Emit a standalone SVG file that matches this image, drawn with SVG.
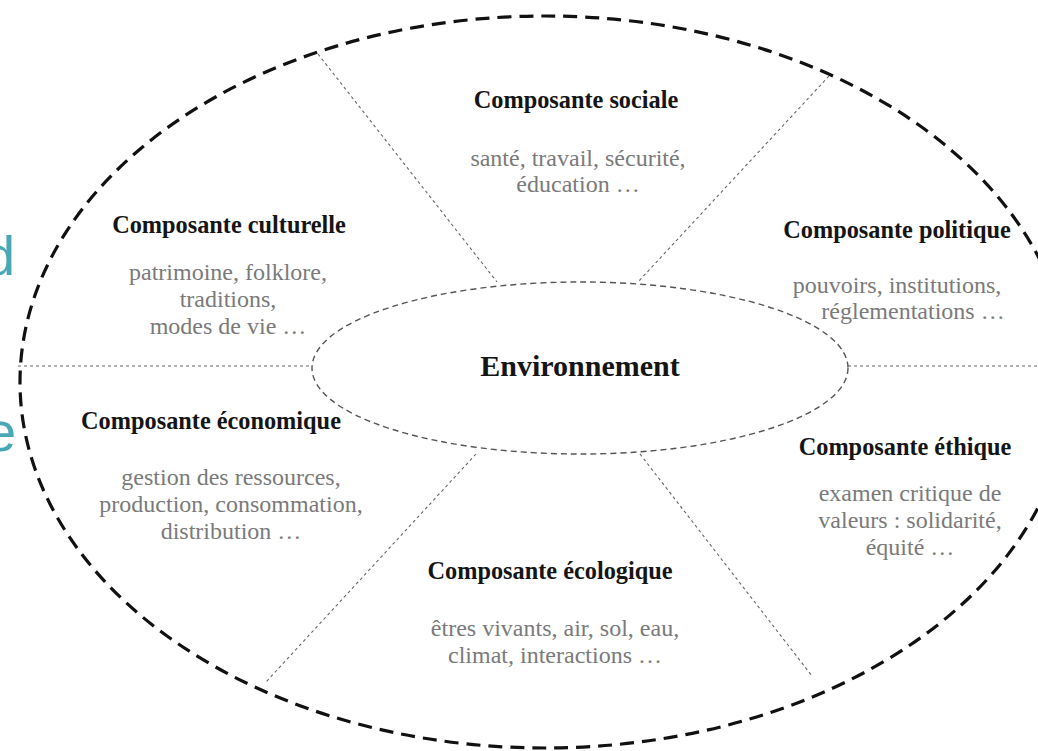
<svg xmlns="http://www.w3.org/2000/svg" width="1038" height="751" viewBox="0 0 1038 751">
<style>
.title{font-family:"Liberation Serif","Times New Roman",serif;font-weight:bold;font-size:24.3px;fill:#151515;text-anchor:middle}
.body{font-family:"Liberation Serif","Times New Roman",serif;font-size:24px;fill:#7a7a7a;text-anchor:middle}
.center{font-family:"Liberation Serif","Times New Roman",serif;font-weight:bold;font-size:30px;fill:#151515;text-anchor:middle}
.outer{fill:none;stroke:#111;stroke-width:3.2;stroke-dasharray:14 8}
.inner{fill:none;stroke:#555;stroke-width:1.4;stroke-dasharray:6 4}
.div{fill:none;stroke:#666;stroke-width:1.1;stroke-dasharray:3 3}
.teal{font-family:"Liberation Sans",Arial,sans-serif;font-size:56px;fill:#4aa7b6}
</style>
<rect width="1038" height="751" fill="#ffffff"/>
<text class="teal" x="-16" y="275">d</text>
<text class="teal" x="-15" y="451">e</text>
<g id="outer-ellipse">
<ellipse class="outer" cx="545" cy="382" rx="525" ry="366"/>
</g>
<g id="connectors">
<line class="div" x1="318" y1="54" x2="497" y2="282"/>
<line class="div" x1="829" y1="76" x2="638" y2="282"/>
<line class="div" x1="18" y1="366" x2="312" y2="366"/>
<line class="div" x1="848" y1="366" x2="1038" y2="366"/>
<line class="div" x1="476" y1="454" x2="266" y2="682"/>
<line class="div" x1="640" y1="454" x2="812" y2="676"/>
</g>
<g id="environnement">
<ellipse class="inner" cx="580" cy="368" rx="268" ry="86"/>
<text class="center" x="580" y="376">Environnement</text>
</g>
<g id="sociale">
<text class="title" x="576" y="108">Composante sociale</text>
<text class="body" x="578" y="166">santé, travail, sécurité,</text>
<text class="body" x="578" y="192">éducation …</text>
</g>
<g id="culturelle">
<text class="title" x="229" y="233">Composante culturelle</text>
<text class="body" x="228" y="280">patrimoine, folklore,</text>
<text class="body" x="228" y="307">traditions,</text>
<text class="body" x="228" y="334">modes de vie …</text>
</g>
<g id="politique">
<text class="title" x="897" y="238">Composante politique</text>
<text class="body" x="897" y="293">pouvoirs, institutions,</text>
<text class="body" x="913" y="319">réglementations …</text>
</g>
<g id="economique">
<text class="title" x="211" y="429">Composante économique</text>
<text class="body" x="231" y="485">gestion des ressources,</text>
<text class="body" x="231" y="512">production, consommation,</text>
<text class="body" x="231" y="539">distribution …</text>
</g>
<g id="ethique">
<text class="title" x="905" y="455">Composante éthique</text>
<text class="body" x="910" y="501">examen critique de</text>
<text class="body" x="910" y="528">valeurs : solidarité,</text>
<text class="body" x="910" y="555">équité …</text>
</g>
<g id="ecologique">
<text class="title" x="550" y="579">Composante écologique</text>
<text class="body" x="555" y="636">êtres vivants, air, sol, eau,</text>
<text class="body" x="555" y="663">climat, interactions …</text>
</g>
</svg>
